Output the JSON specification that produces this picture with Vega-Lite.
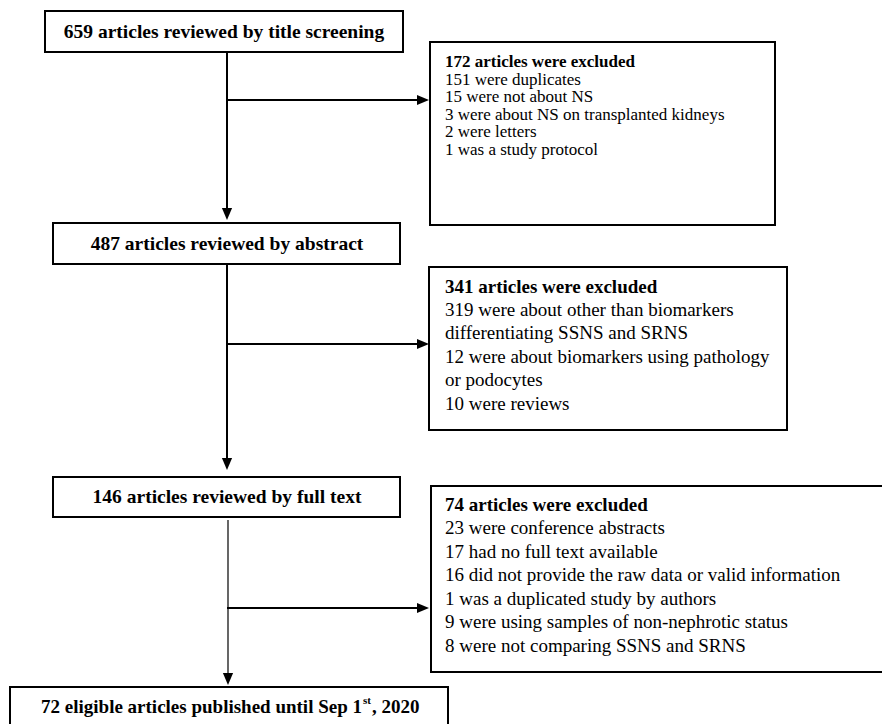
{
  "$schema": "https://vega.github.io/schema/vega-lite/v6.json",
  "width": 882,
  "height": 724,
  "padding": 0,
  "autosize": {"type": "none"},
  "background": "white",
  "config": {"view": {"stroke": null}},
  "datasets": {
    "boxes": [
      {"id": "b1", "x1": 45, "x2": 403, "y1": 11, "y2": 52},
      {"id": "b2", "x1": 430, "x2": 775, "y1": 42, "y2": 225},
      {"id": "b3", "x1": 53, "x2": 400, "y1": 223, "y2": 264},
      {"id": "b4", "x1": 53, "x2": 400, "y1": 477, "y2": 517},
      {"id": "b5", "x1": 429, "x2": 787, "y1": 267, "y2": 430},
      {"id": "b6", "x1": 431, "x2": 900, "y1": 486, "y2": 672},
      {"id": "b7", "x1": 10, "x2": 448, "y1": 687, "y2": 740}
    ],
    "links": [
      {"id": "v1", "kind": "thick", "x1": 227, "x2": 227, "y1": 52, "y2": 210},
      {"id": "h1", "kind": "thick", "x1": 227, "x2": 418, "y1": 100, "y2": 100},
      {"id": "v2", "kind": "thick", "x1": 227, "x2": 227, "y1": 264, "y2": 460},
      {"id": "h2", "kind": "thick", "x1": 227, "x2": 418, "y1": 344, "y2": 344},
      {"id": "v3", "kind": "thin", "x1": 228, "x2": 228, "y1": 520, "y2": 675},
      {"id": "h3", "kind": "thick", "x1": 227, "x2": 418, "y1": 608, "y2": 608}
    ],
    "heads": [
      {"dir": "down", "x": 227, "y": 214},
      {"dir": "right", "x": 423, "y": 100},
      {"dir": "down", "x": 227, "y": 464},
      {"dir": "right", "x": 423, "y": 344},
      {"dir": "down", "x": 228, "y": 679},
      {"dir": "right", "x": 423, "y": 608}
    ],
    "labels": [
      {"box": "b1", "kind": "main", "x": 224, "y": 32, "text": "659 articles reviewed by title screening"},
      {"box": "b3", "kind": "main", "x": 227, "y": 244, "text": "487 articles reviewed by abstract"},
      {"box": "b4", "kind": "main", "x": 227, "y": 497, "text": "146 articles reviewed by full text"},
      {"box": "b2", "kind": "head", "x": 445, "y": 62, "text": "172 articles were excluded"},
      {"box": "b2", "kind": "item", "x": 445, "y": 79.5, "text": "151 were duplicates"},
      {"box": "b2", "kind": "item", "x": 445, "y": 97, "text": "15 were not about NS"},
      {"box": "b2", "kind": "item", "x": 445, "y": 114.5, "text": "3 were about NS on transplanted kidneys"},
      {"box": "b2", "kind": "item", "x": 445, "y": 132, "text": "2 were letters"},
      {"box": "b2", "kind": "item", "x": 445, "y": 149.5, "text": "1 was a study protocol"},
      {"box": "b5", "kind": "head", "x": 445, "y": 287, "text": "341 articles were excluded"},
      {"box": "b5", "kind": "item", "x": 445, "y": 310, "text": "319 were about other than biomarkers"},
      {"box": "b5", "kind": "item", "x": 445, "y": 333, "text": "differentiating SSNS and SRNS"},
      {"box": "b5", "kind": "item", "x": 445, "y": 357, "text": "12 were about biomarkers using pathology"},
      {"box": "b5", "kind": "item", "x": 445, "y": 380, "text": "or podocytes"},
      {"box": "b5", "kind": "item", "x": 445, "y": 404, "text": "10 were reviews"},
      {"box": "b6", "kind": "head", "x": 445, "y": 505, "text": "74 articles were excluded"},
      {"box": "b6", "kind": "item", "x": 445, "y": 528, "text": "23 were conference abstracts"},
      {"box": "b6", "kind": "item", "x": 445, "y": 552, "text": "17 had no full text available"},
      {"box": "b6", "kind": "item", "x": 445, "y": 575, "text": "16 did not provide the raw data or valid information"},
      {"box": "b6", "kind": "item", "x": 445, "y": 599, "text": "1 was a duplicated study by authors"},
      {"box": "b6", "kind": "item", "x": 445, "y": 622, "text": "9 were using samples of non-nephrotic status"},
      {"box": "b6", "kind": "item", "x": 445, "y": 646, "text": "8 were not comparing SSNS and SRNS"},
      {"box": "b7", "kind": "endL", "x": 362, "y": 707, "text": "72 eligible articles published until Sep 1"},
      {"box": "b7", "kind": "sup", "x": 363, "y": 701, "text": "st"},
      {"box": "b7", "kind": "endR", "x": 372, "y": 707, "text": ", 2020"}
    ]
  },
  "layer": [
    {
      "data": {"name": "boxes"},
      "mark": {"type": "rect", "fill": "white", "stroke": "black", "strokeWidth": 2},
      "encoding": {
        "x": {"field": "x1", "type": "quantitative", "scale": {"domain": [0, 882], "nice": false, "zero": false}, "axis": null},
        "x2": {"field": "x2"},
        "y": {"field": "y1", "type": "quantitative", "scale": {"domain": [0, 724], "nice": false, "zero": false, "reverse": true}, "axis": null},
        "y2": {"field": "y2"}
      }
    },
    {
      "data": {"name": "links"},
      "transform": [{"filter": "datum.kind == 'thick'"}],
      "mark": {"type": "rule", "color": "black", "strokeWidth": 2},
      "encoding": {
        "x": {"field": "x1", "type": "quantitative", "scale": {"domain": [0, 882], "nice": false, "zero": false}, "axis": null},
        "x2": {"field": "x2"},
        "y": {"field": "y1", "type": "quantitative", "scale": {"domain": [0, 724], "nice": false, "zero": false, "reverse": true}, "axis": null},
        "y2": {"field": "y2"}
      }
    },
    {
      "data": {"name": "links"},
      "transform": [{"filter": "datum.kind == 'thin'"}],
      "mark": {"type": "rule", "color": "black", "strokeWidth": 1.2},
      "encoding": {
        "x": {"field": "x1", "type": "quantitative", "scale": {"domain": [0, 882], "nice": false, "zero": false}, "axis": null},
        "x2": {"field": "x2"},
        "y": {"field": "y1", "type": "quantitative", "scale": {"domain": [0, 724], "nice": false, "zero": false, "reverse": true}, "axis": null},
        "y2": {"field": "y2"}
      }
    },
    {
      "data": {"name": "heads"},
      "transform": [{"filter": "datum.dir == 'down'"}],
      "mark": {"type": "point", "shape": "M-0.85,-1L0.85,-1L0,1Z", "filled": true, "color": "black", "opacity": 1, "size": 144},
      "encoding": {
        "x": {"field": "x", "type": "quantitative", "scale": {"domain": [0, 882], "nice": false, "zero": false}, "axis": null},
        "y": {"field": "y", "type": "quantitative", "scale": {"domain": [0, 724], "nice": false, "zero": false, "reverse": true}, "axis": null}
      }
    },
    {
      "data": {"name": "heads"},
      "transform": [{"filter": "datum.dir == 'right'"}],
      "mark": {"type": "point", "shape": "M-1,-0.85L-1,0.85L1,0Z", "filled": true, "color": "black", "opacity": 1, "size": 144},
      "encoding": {
        "x": {"field": "x", "type": "quantitative", "scale": {"domain": [0, 882], "nice": false, "zero": false}, "axis": null},
        "y": {"field": "y", "type": "quantitative", "scale": {"domain": [0, 724], "nice": false, "zero": false, "reverse": true}, "axis": null}
      }
    },
    {
      "data": {"name": "labels"},
      "transform": [{"filter": "datum.kind == 'main'"}],
      "mark": {"type": "text", "font": "Liberation Serif", "fontSize": 19.5, "fontWeight": "bold", "align": "center", "baseline": "middle", "color": "black"},
      "encoding": {
        "x": {"field": "x", "type": "quantitative", "scale": {"domain": [0, 882], "nice": false, "zero": false}, "axis": null},
        "y": {"field": "y", "type": "quantitative", "scale": {"domain": [0, 724], "nice": false, "zero": false, "reverse": true}, "axis": null},
        "text": {"field": "text"}
      }
    },
    {
      "data": {"name": "labels"},
      "transform": [{"filter": "datum.kind == 'head' && datum.box == 'b2'"}],
      "mark": {"type": "text", "font": "Liberation Serif", "fontSize": 17, "fontWeight": "bold", "align": "left", "baseline": "middle", "color": "black"},
      "encoding": {
        "x": {"field": "x", "type": "quantitative", "scale": {"domain": [0, 882], "nice": false, "zero": false}, "axis": null},
        "y": {"field": "y", "type": "quantitative", "scale": {"domain": [0, 724], "nice": false, "zero": false, "reverse": true}, "axis": null},
        "text": {"field": "text"}
      }
    },
    {
      "data": {"name": "labels"},
      "transform": [{"filter": "datum.kind == 'item' && datum.box == 'b2'"}],
      "mark": {"type": "text", "font": "Liberation Serif", "fontSize": 17, "align": "left", "baseline": "middle", "color": "black"},
      "encoding": {
        "x": {"field": "x", "type": "quantitative", "scale": {"domain": [0, 882], "nice": false, "zero": false}, "axis": null},
        "y": {"field": "y", "type": "quantitative", "scale": {"domain": [0, 724], "nice": false, "zero": false, "reverse": true}, "axis": null},
        "text": {"field": "text"}
      }
    },
    {
      "data": {"name": "labels"},
      "transform": [{"filter": "datum.kind == 'head' && datum.box != 'b2'"}],
      "mark": {"type": "text", "font": "Liberation Serif", "fontSize": 19, "fontWeight": "bold", "align": "left", "baseline": "middle", "color": "black"},
      "encoding": {
        "x": {"field": "x", "type": "quantitative", "scale": {"domain": [0, 882], "nice": false, "zero": false}, "axis": null},
        "y": {"field": "y", "type": "quantitative", "scale": {"domain": [0, 724], "nice": false, "zero": false, "reverse": true}, "axis": null},
        "text": {"field": "text"}
      }
    },
    {
      "data": {"name": "labels"},
      "transform": [{"filter": "datum.kind == 'item' && datum.box != 'b2'"}],
      "mark": {"type": "text", "font": "Liberation Serif", "fontSize": 19, "align": "left", "baseline": "middle", "color": "black"},
      "encoding": {
        "x": {"field": "x", "type": "quantitative", "scale": {"domain": [0, 882], "nice": false, "zero": false}, "axis": null},
        "y": {"field": "y", "type": "quantitative", "scale": {"domain": [0, 724], "nice": false, "zero": false, "reverse": true}, "axis": null},
        "text": {"field": "text"}
      }
    },
    {
      "data": {"name": "labels"},
      "transform": [{"filter": "datum.kind == 'endL'"}],
      "mark": {"type": "text", "font": "Liberation Serif", "fontSize": 19, "fontWeight": "bold", "align": "right", "baseline": "middle", "color": "black"},
      "encoding": {
        "x": {"field": "x", "type": "quantitative", "scale": {"domain": [0, 882], "nice": false, "zero": false}, "axis": null},
        "y": {"field": "y", "type": "quantitative", "scale": {"domain": [0, 724], "nice": false, "zero": false, "reverse": true}, "axis": null},
        "text": {"field": "text"}
      }
    },
    {
      "data": {"name": "labels"},
      "transform": [{"filter": "datum.kind == 'sup'"}],
      "mark": {"type": "text", "font": "Liberation Serif", "fontSize": 11, "fontWeight": "bold", "align": "left", "baseline": "middle", "color": "black"},
      "encoding": {
        "x": {"field": "x", "type": "quantitative", "scale": {"domain": [0, 882], "nice": false, "zero": false}, "axis": null},
        "y": {"field": "y", "type": "quantitative", "scale": {"domain": [0, 724], "nice": false, "zero": false, "reverse": true}, "axis": null},
        "text": {"field": "text"}
      }
    },
    {
      "data": {"name": "labels"},
      "transform": [{"filter": "datum.kind == 'endR'"}],
      "mark": {"type": "text", "font": "Liberation Serif", "fontSize": 19, "fontWeight": "bold", "align": "left", "baseline": "middle", "color": "black"},
      "encoding": {
        "x": {"field": "x", "type": "quantitative", "scale": {"domain": [0, 882], "nice": false, "zero": false}, "axis": null},
        "y": {"field": "y", "type": "quantitative", "scale": {"domain": [0, 724], "nice": false, "zero": false, "reverse": true}, "axis": null},
        "text": {"field": "text"}
      }
    }
  ]
}
